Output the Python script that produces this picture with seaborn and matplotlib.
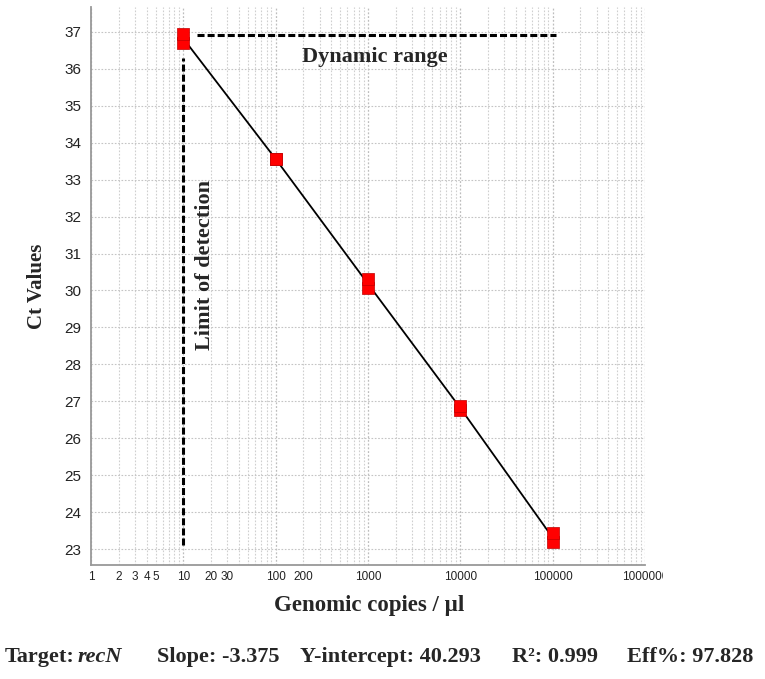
import matplotlib

matplotlib.use("Agg")

import matplotlib.pyplot as plt
import matplotlib.ticker as mticker
import pandas as pd
import seaborn as sns
from matplotlib.transforms import Bbox, TransformedBbox

# replicate Ct readings per dilution
copies = [10, 10, 100, 100, 1000, 1000, 10000, 10000, 100000, 100000]
ct_values = [36.70, 36.94, 33.56, 33.56, 30.06, 30.30, 26.76, 26.88, 23.18, 23.44]

x_tick_values = [1, 2, 3, 4, 5, 10, 20, 30, 100, 200, 1000, 10000, 100000, 1000000]
x_tick_labels = ["1", "2", "3", "4", "5", "10", "20", "30", "100", "200",
                 "1000", "10000", "100000", "1000000"]
y_tick_values = list(range(23, 38))

lod_copies = 10
lod_ct_range = [23.1, 36.3]
dyn_ct = 36.92
dyn_copies_range = [14, 110000]

slope = -3.375
intercept = 40.293
r2 = 0.999
eff = 97.828

df = pd.DataFrame({"copies": copies, "ct": ct_values})

sns.set_style("white")
plt.rcParams["font.family"] = ["Liberation Sans", "DejaVu Sans"]

fig = plt.figure(figsize=(7.65, 6.79), dpi=100)
ax = fig.add_axes([0.119, 0.168, 0.724, 0.822])

ax.set_xscale("log")
ax.set_xlim(1, 1000000)
ax.set_ylim(22.57, 37.68)

# regression line through the dilution means, then replicate markers
means = df.groupby("copies", as_index=False)["ct"].mean()
sns.lineplot(data=means, x="copies", y="ct", ax=ax, color="black", lw=1.3, zorder=3)
sns.scatterplot(data=df, x="copies", y="ct", ax=ax, marker="s", s=80,
                color="#ff0000", edgecolor="#c00000", linewidth=0.5, zorder=4)

# dashed annotation lines
dash = (0, (2.3, 1.0))
ax.plot([lod_copies, lod_copies], lod_ct_range, ls=dash, color="black", lw=2.2, zorder=2)
ax.plot(dyn_copies_range, [dyn_ct, dyn_ct], ls=dash, color="black", lw=2.2, zorder=2)

ax.text(1200, 36.33, "Dynamic range", family="Liberation Serif", fontweight="bold",
        fontsize=16, ha="center", va="center")
ax.text(17.0, 30.68, "Limit of detection", family="Liberation Serif", fontweight="bold",
        fontsize=16, ha="center", va="center", rotation=90)

# grid on every decade step
ax.xaxis.set_major_locator(mticker.LogLocator(base=10, numticks=10))
ax.xaxis.set_minor_locator(mticker.LogLocator(base=10, subs=range(2, 10), numticks=20))
ax.xaxis.set_major_formatter(mticker.NullFormatter())
ax.xaxis.set_minor_formatter(mticker.NullFormatter())
ax.grid(True, which="major", axis="x", color="#bdbdbd", ls=(0, (1.5, 1.5)), lw=0.9)
ax.grid(True, which="minor", axis="x", color="#cfcfcf", ls=(0, (1.5, 1.5)), lw=0.8)
ax.grid(True, which="major", axis="y", color="#c4c4c4", ls=(0, (1.5, 1.5)), lw=0.8)

ax.set_yticks(y_tick_values)
ax.tick_params(axis="y", labelsize=11, length=3, color="#808080", pad=4, labelcolor="#222222")
ax.tick_params(axis="x", which="both", length=0)

clip = TransformedBbox(Bbox([[0, 0], [663 / 765, 1]]), fig.transFigure)
for xv, lab in zip(x_tick_values, x_tick_labels):
    t = ax.text(xv, -0.021, lab, transform=ax.get_xaxis_transform(), ha="center",
                va="center", fontsize=8.5, color="#222222",
                family=["Liberation Sans Narrow", "Liberation Sans"])
    t.set_clip_box(clip)
    t.set_clip_on(True)

for side in ["left", "bottom"]:
    ax.spines[side].set_color("#999999")
    ax.spines[side].set_linewidth(1.3)
ax.spines["right"].set_visible(False)
ax.spines["top"].set_visible(False)

ax.set_xlabel("")
ax.set_ylabel("")
fig.text(0.049, 0.579, "Ct Values", family="Liberation Serif", fontweight="bold",
         fontsize=15, rotation=90, ha="center", va="center")
fig.text(0.483, 0.108, "Genomic copies / µl", family="Liberation Serif", fontweight="bold",
         fontsize=16.5, ha="center", va="center")

serif_bold = dict(family="Liberation Serif", fontweight="bold", fontsize=16, va="baseline")
base_y = 1 - 662 / 679
fig.text(5 / 765, base_y, "Target:", ha="left", **serif_bold)
fig.text(78 / 765, base_y, "recN", ha="left", style="italic", **serif_bold)
fig.text(157 / 765, base_y, f"Slope: {slope}", ha="left", **serif_bold)
fig.text(300 / 765, base_y, f"Y-intercept: {intercept}", ha="left", **serif_bold)
fig.text(512 / 765, base_y, f"R²: {r2}", ha="left", **serif_bold)
fig.text(627 / 765, base_y, f"Eff%: {eff}", ha="left", **serif_bold)

fig.savefig("out.png", dpi=100)
